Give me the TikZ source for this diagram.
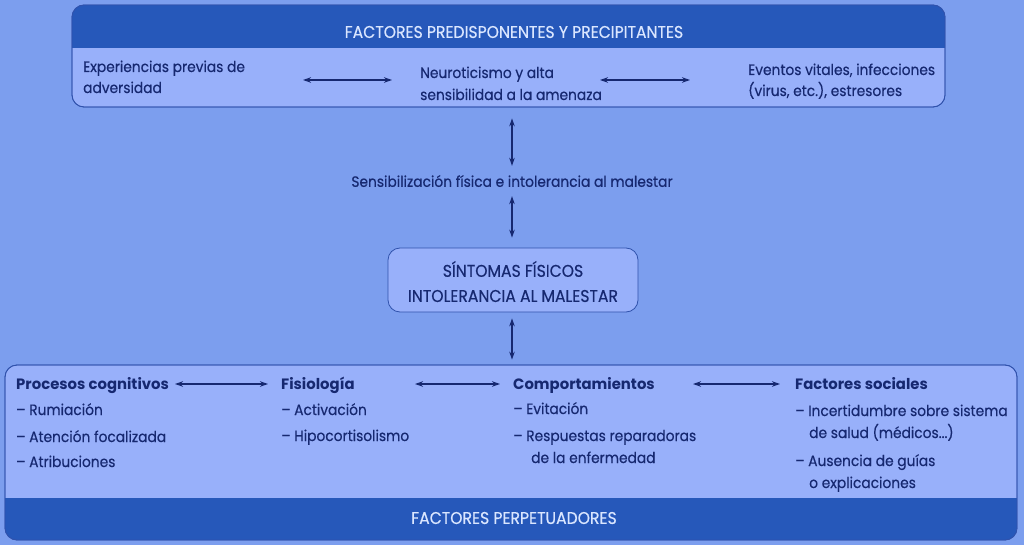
\documentclass[tikz,border=0pt]{standalone}
\usepackage{fontspec}
\setmainfont{Poppins}[FakeStretch=0.92, UprightFeatures={FakeBold=0.4}, BoldFeatures={FakeStretch=0.99}]
\usetikzlibrary{arrows.meta}
\definecolor{bgc}{RGB}{124,158,238}
\definecolor{boxc}{RGB}{152,176,250}
\definecolor{bandc}{RGB}{38,88,186}
\definecolor{txtc}{RGB}{22,40,112}
\definecolor{bandtxt}{RGB}{218,230,255}
\definecolor{edgec}{RGB}{48,82,172}
\begin{document}
\begin{tikzpicture}[x=1pt,y=-1pt,
  lbl/.style={inner sep=0pt, text=txtc, font=\fontsize{15}{21}\selectfont, anchor=base west},
  head/.style={inner sep=0pt, text=txtc, font=\fontsize{15}{21}\selectfont\bfseries, anchor=base west},
  caps/.style={inner sep=0pt, text=txtc, font=\fontsize{17}{21}\selectfont},
  bandlbl/.style={inner sep=0pt, text=bandtxt, font=\fontsize{17}{21}\selectfont},
  arr/.style={line width=1.2pt, draw=txtc, {Stealth[length=8pt,width=5.5pt]}-{Stealth[length=8pt,width=5.5pt]}},
  panel/.style={draw=edgec, line width=0.8pt, fill=boxc, rounded corners=12pt}]
\useasboundingbox (0,0) rectangle (1024,545);
\fill[bgc] (0,0) rectangle (1024,545);

% top box
\node[panel, minimum width=873pt, minimum height=102pt, inner sep=0pt] (topbox) at (508.5,56) {};
\begin{scope}
\clip[rounded corners=12pt] (72,5) rectangle (945,107);
\fill[bandc] (72,5) rectangle (945,48);
\end{scope}
\draw[edgec, line width=0.8pt, rounded corners=12pt] (72,5) rectangle (945,107);
\node[bandlbl] (toph) at (514,32) {FACTORES PREDISPONENTES Y PRECIPITANTES};

\node[lbl] (exp1) at (83,72) {Experiencias previas de};
\node[lbl] (exp2) at (83,93) {adversidad};
\node[lbl] (neu1) at (420,78) {Neuroticismo y alta};
\node[lbl] (neu2) at (420,100) {sensibilidad a la amenaza};
\node[lbl] (eve1) at (748,75) {Eventos vitales, infecciones};
\node[lbl] (eve2) at (748,96) {(virus, etc.), estresores};
\coordinate (a1s) at (303,80); \coordinate (a1e) at (392,80);
\coordinate (a2s) at (600,80); \coordinate (a2e) at (690,80);
\draw[arr] (a1s) -- (a1e);
\draw[arr] (a2s) -- (a2e);

% middle
\node[inner sep=0pt, text=txtc, font=\fontsize{15}{21}\selectfont] (sens) at (512,181) {Sensibilización física e intolerancia al malestar};
\node[panel, minimum width=250pt, minimum height=64pt, inner sep=0pt] (mid) at (513,280) {};
\node[caps] (mid1) at (513,269) {SÍNTOMAS FÍSICOS};
\node[caps] (mid2) at (513,296) {INTOLERANCIA AL MALESTAR};

% bottom box
\node[panel, minimum width=1012pt, minimum height=175pt, inner sep=0pt] (botbox) at (511,452.5) {};
\begin{scope}
\clip[rounded corners=12pt] (5,365) rectangle (1017,540);
\fill[bandc] (5,498) rectangle (1017,540);
\end{scope}
\draw[edgec, line width=0.8pt, rounded corners=12pt] (5,365) rectangle (1017,540);
\node[bandlbl] (both) at (514,518) {FACTORES PERPETUADORES};

\draw[arr, shorten <=11pt, shorten >=9pt] (sens.north |- topbox.south) -- (sens.north);
\draw[arr, shorten <=9pt, shorten >=10pt] (sens.south) -- (sens.south |- mid.north);
\draw[arr, shorten <=6pt, shorten >=5pt] (sens.south |- mid.south) -- (sens.south |- botbox.north);

\node[head] (c1) at (16,389) {Procesos cognitivos};
\node[lbl] (c1a) at (16,415) {– Rumiación};
\node[lbl] (c1b) at (16,442) {– Atención focalizada};
\node[lbl] (c1c) at (16,467) {– Atribuciones};
\node[head] (c2) at (281,389) {Fisiología};
\node[lbl] (c2a) at (281,415) {– Activación};
\node[lbl] (c2b) at (281,441) {– Hipocortisolismo};
\node[head] (c3) at (513,389) {Comportamientos};
\node[lbl] (c3a) at (513,414) {– Evitación};
\node[lbl] (c3b) at (513,441) {– Respuestas reparadoras};
\node[lbl] (c3c) at (531,463) {de la enfermedad};
\node[head] (c4) at (795,389) {Factores sociales};
\node[lbl] (c4a) at (795,416) {– Incertidumbre sobre sistema};
\node[lbl] (c4b) at (809,438) {de salud (médicos...)};
\node[lbl] (c4c) at (795,466) {– Ausencia de guías};
\node[lbl] (c4d) at (809,488) {o explicaciones};

\coordinate (b1s) at (175,384); \coordinate (b1e) at (268,384);
\coordinate (b2s) at (415,384); \coordinate (b2e) at (500,384);
\coordinate (b3s) at (693,384); \coordinate (b3e) at (780,384);
\draw[arr] (b1s) -- (b1e);
\draw[arr] (b2s) -- (b2e);
\draw[arr] (b3s) -- (b3e);
\end{tikzpicture}
\end{document}
